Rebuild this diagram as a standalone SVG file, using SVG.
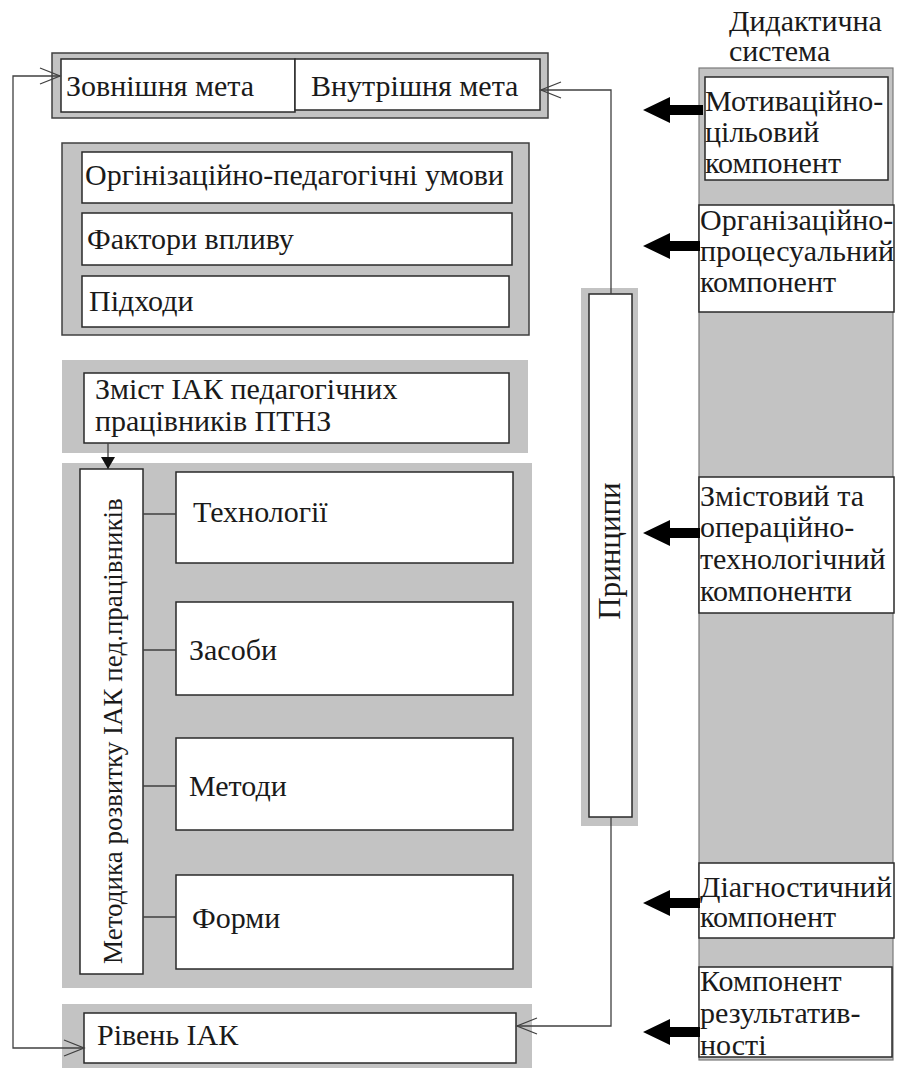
<svg xmlns="http://www.w3.org/2000/svg" width="898" height="1068" viewBox="0 0 898 1068">
<defs>
<style>
.t{font-family:"Liberation Serif","Times New Roman",serif;font-size:30px;fill:#1a1a1a}
.g{fill:#c3c3c3}
.gb{fill:#c3c3c3;stroke:#404040;stroke-width:1.5}
.w{fill:#fff;stroke:#2a2a2a;stroke-width:1.5}
.ln{fill:none;stroke:#404040;stroke-width:1.3}
.big{fill:#000}
</style>
<marker id="open" viewBox="-22 -10 24 20" refX="0" refY="0" markerWidth="24" markerHeight="20" markerUnits="userSpaceOnUse" orient="auto-start-reverse">
<path d="M-20,-8 L0,0 L-20,8" fill="none" stroke="#404040" stroke-width="1.3"/>
</marker>
<marker id="solid" viewBox="-12 -8 14 16" refX="0" refY="0" markerWidth="14" markerHeight="16" markerUnits="userSpaceOnUse" orient="auto">
<path d="M-12,-7 L0,0 L-12,7 Z" fill="#111"/>
</marker>
</defs>

<g id="didactic-system">
<text class="t" x="729" y="31">Дидактична</text>
<text class="t" x="729" y="61">система</text>
<rect x="699" y="68" width="194" height="992" fill="#c3c3c3" stroke="#7a7a7a" stroke-width="1.2"/>
</g>

<g id="goal">
<rect class="gb" x="52" y="53" width="496" height="65"/>
<rect class="w" x="61" y="59" width="234" height="53"/>
<rect class="w" x="295" y="59" width="245" height="51"/>
<text class="t" x="66" y="96">Зовнішня мета</text>
<text class="t" x="311" y="96">Внутрішня мета</text>
</g>

<g id="conditions">
<rect class="gb" x="62" y="143" width="467" height="192"/>
<rect class="w" x="82" y="152" width="430" height="51"/>
<rect class="w" x="82" y="213" width="430" height="52"/>
<rect class="w" x="82" y="276" width="427" height="51"/>
<text class="t" x="85" y="185">Оргінізаційно-педагогічні умови</text>
<text class="t" x="87" y="249">Фактори впливу</text>
<text class="t" x="89" y="311">Підходи</text>
</g>

<g id="content">
<rect class="g" x="62" y="360" width="466" height="93"/>
<rect class="w" x="84" y="373" width="425" height="70"/>
<text class="t" x="95" y="399">Зміст ІАК педагогічних</text>
<text class="t" x="95" y="431">працівників ПТНЗ</text>
</g>

<g id="method">
<rect class="g" x="62" y="463" width="470" height="525"/>
<rect class="w" x="80" y="469" width="63" height="505"/>
<text class="t" style="font-size:27px" transform="translate(122,964) rotate(-90)">Методика розвитку ІАК пед.працівників</text>
</g>

<g id="technologies">
<rect class="w" x="176" y="472" width="337" height="91"/>
<text class="t" x="193" y="522">Технології</text>
</g>
<g id="means">
<rect class="w" x="176" y="602" width="337" height="93"/>
<text class="t" x="189" y="660">Засоби</text>
</g>
<g id="methods">
<rect class="w" x="176" y="738" width="337" height="92"/>
<text class="t" x="189" y="796">Методи</text>
</g>
<g id="forms">
<rect class="w" x="176" y="875" width="337" height="94"/>
<text class="t" x="192" y="928">Форми</text>
</g>

<g id="level">
<rect class="g" x="62" y="1004" width="470" height="64"/>
<rect class="w" x="84" y="1013" width="432" height="50"/>
<text class="t" x="97" y="1045">Рівень ІАК</text>
</g>

<g id="principles">
<rect class="g" x="581" y="288" width="57" height="538"/>
<rect class="w" x="589" y="294" width="43" height="523"/>
<text class="t" style="font-size:31px" text-anchor="middle" transform="translate(620,551) rotate(-90)">Принципи</text>
</g>

<g id="motivational">
<rect class="w" x="705" y="77" width="183" height="103"/>
<text class="t" x="705" y="111">Мотиваційно-</text>
<text class="t" x="705" y="142">цільовий</text>
<text class="t" x="705" y="173">компонент</text>
</g>
<g id="organizational">
<rect class="w" x="699" y="205" width="195" height="107"/>
<text class="t" x="700" y="230">Організаційно-</text>
<text class="t" x="700" y="261">процесуальний</text>
<text class="t" x="700" y="292">компонент</text>
</g>
<g id="content-operational">
<rect class="w" x="699" y="477" width="195" height="136"/>
<text class="t" x="700" y="506">Змістовий та</text>
<text class="t" x="700" y="537">операційно-</text>
<text class="t" x="700" y="569">технологічний</text>
<text class="t" x="700" y="601">компоненти</text>
</g>
<g id="diagnostic">
<rect class="w" x="699" y="863" width="195" height="75"/>
<text class="t" x="700" y="897">Діагностичний</text>
<text class="t" x="700" y="927">компонент</text>
</g>
<g id="effectiveness">
<rect class="w" x="699" y="967" width="193" height="90"/>
<text class="t" x="700" y="991">Компонент</text>
<text class="t" x="700" y="1023">результатив-</text>
<text class="t" x="700" y="1055">ності</text>
</g>

<g id="connectors">
<path class="ln" d="M60,76 H13 V1048 H84" marker-start="url(#open)" marker-end="url(#open)"/>
<path class="ln" d="M611,294 V90 H541" marker-end="url(#open)"/>
<path class="ln" d="M611,817 V1026 H517" marker-end="url(#open)"/>
<path class="ln" d="M108,443 V469" stroke="#111" marker-end="url(#solid)"/>
<path class="ln" d="M143,514 H176 M143,650 H176 M143,786 H176 M143,917 H176"/>
<g class="big">
<path d="M703,105 H670 V97 L643,110 L670,123 V115 H703 Z"/>
<path d="M700,241 H670 V233 L643,246 L670,259 V251 H700 Z"/>
<path d="M700,528 H670 V520 L643,533 L670,546 V538 H700 Z"/>
<path d="M700,898 H670 V890 L643,903 L670,916 V908 H700 Z"/>
<path d="M700,1027 H670 V1019 L643,1032 L670,1045 V1037 H700 Z"/>
</g>
</g>
</svg>
